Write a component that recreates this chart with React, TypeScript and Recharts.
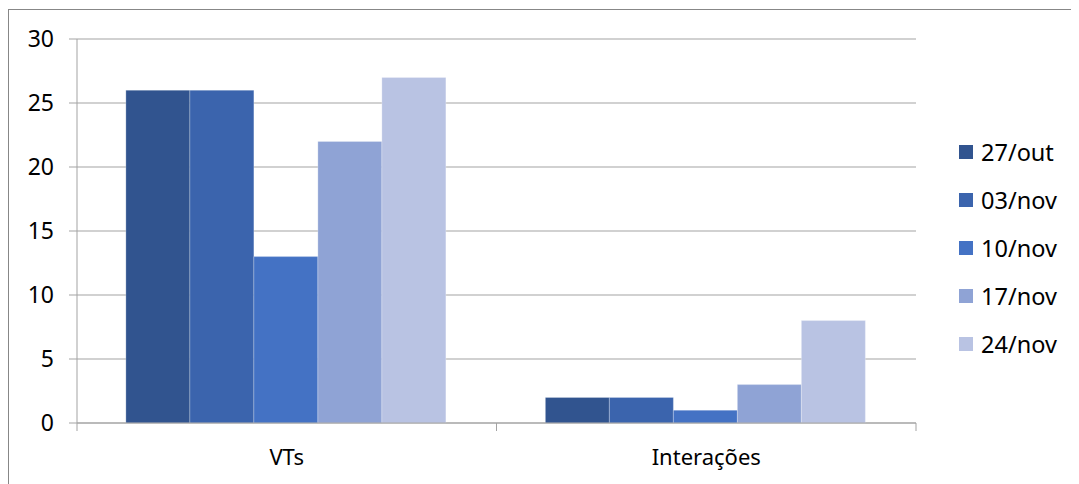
import React from 'react';
import { BarChart, Bar, XAxis, YAxis, CartesianGrid, Legend } from 'recharts';

const categories = ['VTs', 'Interações'];
const seriesNames = ['27/out', '03/nov', '10/nov', '17/nov', '24/nov'];
const seriesKeys = ['s0', 's1', 's2', 's3', 's4'];
const vtsValues = [26, 26, 13, 22, 27];
const interacoesValues = [2, 2, 1, 3, 8];
const yTicks = [0, 5, 10, 15, 20, 25, 30];
const colors = ['#31548F', '#3B64AD', '#4472C4', '#8FA3D5', '#B9C3E3'];

const valuesByCategory = [vtsValues, interacoesValues];
const data = categories.map((name, ci) => {
  const row: Record<string, string | number> = { name };
  seriesKeys.forEach((k, si) => {
    row[k] = valuesByCategory[ci][si];
  });
  return row;
});

const FONT = '"Noto Sans", sans-serif';
const GRID = '#A3A3A3';

const CategoryTick = (props: any) => {
  const { x, y, payload, index } = props;
  const half = payload && typeof payload.offset === 'number' && payload.offset > 0 ? payload.offset : 209.75;
  const isLast = index === categories.length - 1;
  return (
    <g>
      <line x1={x - half} x2={x - half} y1={y} y2={y + 8} stroke={GRID} strokeWidth={1} />
      {isLast && <line x1={x + half} x2={x + half} y1={y} y2={y + 8} stroke={GRID} strokeWidth={1} />}
      <text x={x} y={y + 26} dy="0.71em" textAnchor="middle" fontFamily={FONT} fontSize={22} fill="#000">
        {payload.value}
      </text>
    </g>
  );
};

const LegendContent = () => (
  <div style={{ position: 'relative', width: 163, height: 260, fontFamily: FONT }}>
    {seriesNames.map((n, i) => (
      <div key={n} style={{ position: 'absolute', left: 43, top: i * 48 - 12, height: 24, display: 'flex', alignItems: 'center' }}>
        <div style={{ width: 14, height: 14, background: colors[i] }} />
        <span style={{ marginLeft: 8, fontSize: 23.5, color: '#000', lineHeight: '24px' }}>{n}</span>
      </div>
    ))}
  </div>
);

export default function App() {
  return (
    <div style={{ position: 'relative', width: 1071, height: 476 }}>
      <div
        style={{
          position: 'absolute',
          left: 0,
          top: 1,
          width: 1071,
          height: 475,
          borderLeft: '1px solid #878787',
          borderTop: '1px solid #878787',
          boxSizing: 'border-box',
          pointerEvents: 'none',
        }}
      />
      <BarChart
        width={1071}
        height={476}
        data={data}
        margin={{ top: 31, right: 0, bottom: 0, left: 0 }}
        barCategoryGap="11.65%"
        barGap={0}
      >
        <CartesianGrid vertical={false} horizontal stroke={GRID} strokeWidth={1} />
        <XAxis
          dataKey="name"
          height={61}
          axisLine={{ stroke: GRID }}
          tickLine={false}
          tickSize={0}
          tickMargin={0}
          interval={0}
          tick={<CategoryTick />}
        />
        <YAxis
          width={69}
          domain={[0, 30]}
          ticks={yTicks}
          interval={0}
          tickSize={8}
          tickMargin={15}
          axisLine={{ stroke: GRID }}
          tickLine={{ stroke: GRID }}
          tick={{ fontFamily: FONT, fontSize: 23, fill: '#000' }}
        />
        <Legend
          layout="vertical"
          align="right"
          verticalAlign="top"
          wrapperStyle={{ width: 163, top: 144, right: 0 }}
          content={<LegendContent />}
        />
        {seriesKeys.map((k, i) => (
          <Bar
            key={k}
            dataKey={k}
            name={seriesNames[i]}
            fill={colors[i]}
            stroke="#FFFFFF"
            strokeOpacity={0.25}
            strokeWidth={1}
            isAnimationActive={false}
          />
        ))}
      </BarChart>
    </div>
  );
}
